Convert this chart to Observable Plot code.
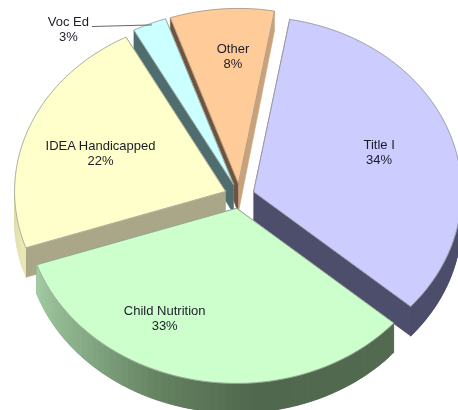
<!DOCTYPE html>
<html>
<head>
<meta charset="utf-8">
<script src="https://cdn.jsdelivr.net/npm/d3@7"></script>
<script src="https://cdn.jsdelivr.net/npm/@observablehq/plot@0.6"></script>
<style>
  html, body { margin: 0; padding: 0; background: #fff; overflow: hidden; }
</style>
</head>
<body>
<div id="chart"></div>
<script>
// Data
const categories = ["Title I", "Child Nutrition", "IDEA Handicapped", "Voc Ed", "Other"];
const values = [33.6, 33.4, 22.4, 2.6, 8.0];
const percentLabels = ["34%", "33%", "22%", "3%", "8%"];

// Styles
const topColors = ["#ccccff", "#ccffcc", "#ffffcc", "#ccffff", "#ffcc99"];
const startWallColors = ["#4d4d6c", "#53694f", "#a9a787", "#4f6d6e", "#6f533c"];
const endWallColors = ["#4d4d6c", "#53694f", "#a9a787", "#8fb0b0", "#c9a27a"];
const drawOrder = [4, 3, 2, 0, 1];
const labelRadius = [0.645, 0.71, 0.633, 1.186, 0.73];
const labelAngle = [69.3, 208.7, 290.6, 318.7, 358];

// Pie geometry
const W = 458, H = 410;
const cx = 239, cy = 195.5, rx = 208, rxLeft = 211, ry = 175, explode = 0.072, startAngle = 10;
const rad = (a) => (a * Math.PI) / 180;
const depth = (y) => Math.min(29.5, 19 + y * 0.055);

let acc = startAngle;
const total = d3.sum(values);
const slices = categories.map((name, i) => {
  const a0 = acc;
  const a1 = (acc += (values[i] / total) * 360);
  const mid = (a0 + a1) / 2;
  const ax = cx + explode * rx * Math.sin(rad(mid));
  const ay = cy - explode * ry * Math.cos(rad(mid));
  return {name, i, a0, a1, mid, ax, ay};
});
const rim = (s, a, r = 1) => {
  const sn = Math.sin(rad(a));
  return [s.ax + (sn < 0 ? rxLeft : rx) * r * sn, s.ay - ry * r * Math.cos(rad(a))];
};
const down = ([x, y]) => [x, y + depth(y)];

const childShade = d3.scaleLinear()
  .domain([131, 175, 200, 225, 251.2])
  .range(["#526a50", "#50684e", "#63805f", "#84a984", "#a3cba3"]);
const ideaShade = d3.scaleLinear().domain([251, 270]).range(["#ece9ba", "#dedba9"]);
const wallShade = (k, a) => k === 0 ? "#4c4c6b" : k === 1 ? childShade(a) : ideaShade(a);

const rows = [];
let polyId = 0;
function poly(points, fill, isTop) {
  const id = polyId++;
  for (const [x, y] of points) rows.push({x, y, id, fill, isTop});
}
for (const k of drawOrder) {
  const s = slices[k];
  const apex = [s.ax, s.ay];
  // straight cut faces
  poly([apex, rim(s, s.a1), down(rim(s, s.a1)), down(apex)], endWallColors[k]);
  poly([apex, rim(s, s.a0), down(rim(s, s.a0)), down(apex)], startWallColors[k]);
  // curved outer face, front half only; each strip overlaps the next so no seams show
  const from = Math.max(s.a0, 90), to = Math.min(s.a1, 270);
  for (let a = from; a < to; a += 2) {
    const b = Math.min(a + 4, to);
    const strip = d3.range(a, b, 1).concat(b).map((t) => rim(s, t));
    poly(strip.concat(strip.map(down).reverse()), wallShade(k, a + 1));
  }
  // top face
  const top = [apex];
  for (let a = s.a0; a < s.a1; a += 1.5) top.push(rim(s, a));
  top.push(rim(s, s.a1), apex);
  poly(top, topColors[k], true);
}

const labels = slices.map((s) => {
  const [x, y] = rim(s, labelAngle[s.i], labelRadius[s.i]);
  return {x, y, text: `${s.name}\n${percentLabels[s.i]}`};
});

// leader line from the Voc Ed label to its slice
const voc = slices[3];
const vocLabel = labels[3];
const vocRim = rim(voc, voc.mid);
const leader = [
  {x: vocLabel.x + 24, y: vocLabel.y - 2},
  {x: vocRim[0] + 2, y: vocRim[1] + 1}
];

const chart = Plot.plot({
  width: W,
  height: H,
  margin: 0,
  x: {domain: [0, W], range: [0, W], axis: null},
  y: {domain: [0, H], range: [0, H], axis: null},
  color: {type: "identity"},
  style: {background: "#fff", filter: "blur(0.45px)"},
  marks: [
    Plot.line(rows, {
      x: "x", y: "y", z: "id",
      fill: "fill", stroke: "fill",
      strokeWidth: 0.6
    }),
    Plot.line(rows.filter((d) => d.isTop), {
      x: "x", y: "y", z: "id",
      stroke: "#8d8d88", strokeWidth: 0.7
    }),
    Plot.line(leader, {x: "x", y: "y", stroke: "#555", strokeWidth: 0.9}),
    Plot.text(labels, {
      x: "x", y: "y", text: "text",
      fontFamily: "Liberation Sans, Arial, sans-serif",
      fontSize: 13,
      lineHeight: 1.15,
      fill: "#1c1c28"
    })
  ]
});
document.getElementById("chart").appendChild(chart);
</script>
</body>
</html>
